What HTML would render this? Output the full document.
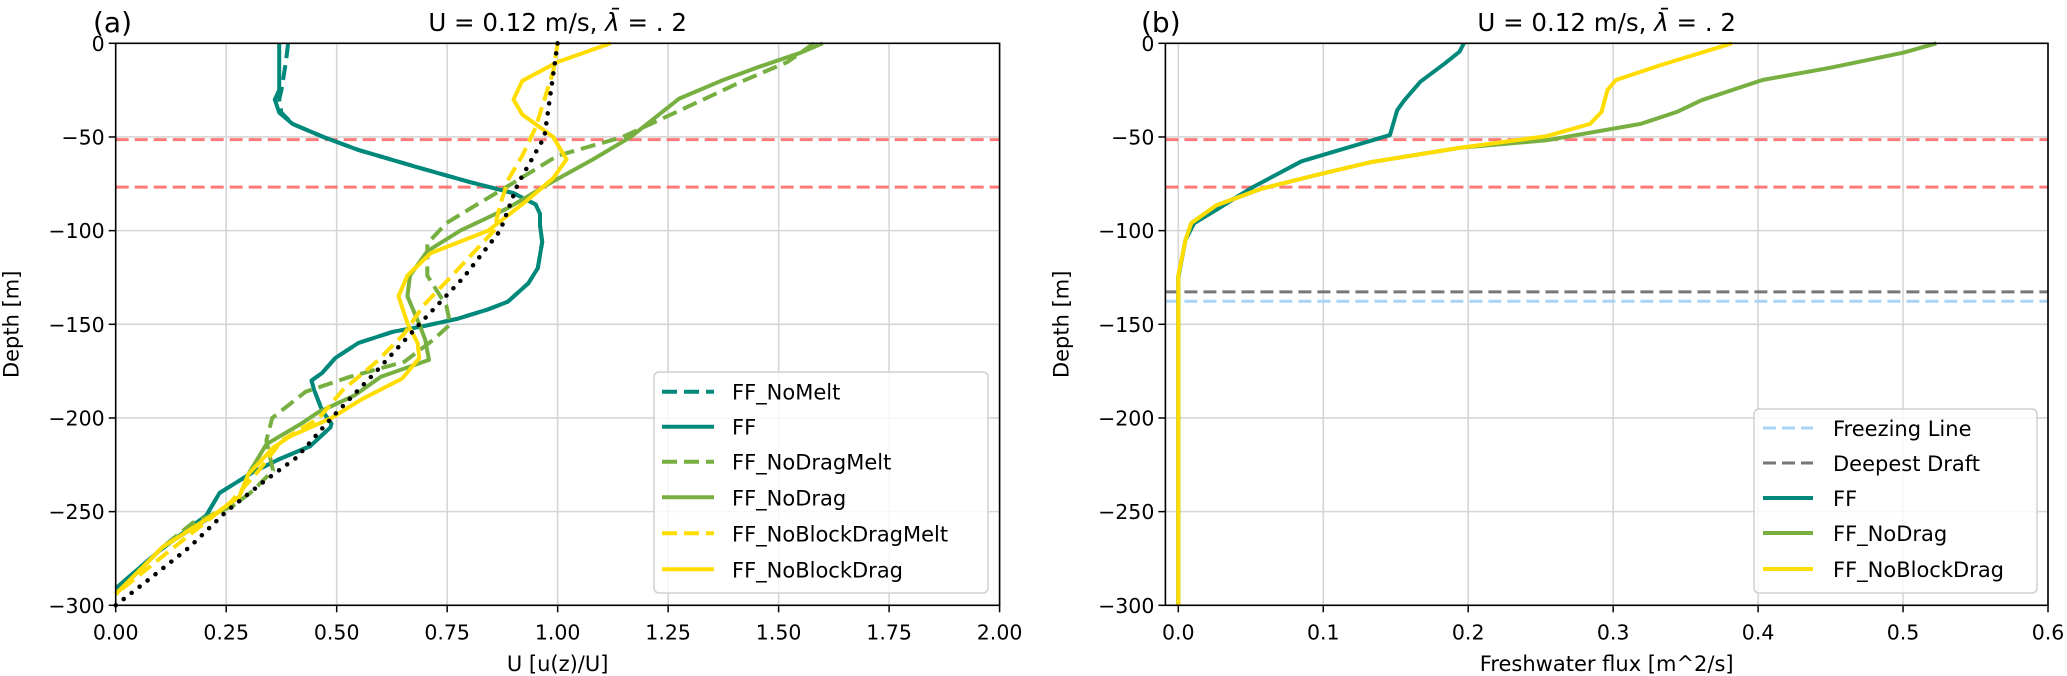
<!DOCTYPE html>
<html><head><meta charset="utf-8"><style>
html,body{margin:0;padding:0;background:#fff;}
svg{display:block;font-family:"DejaVu Sans","Liberation Sans",sans-serif;}
</style></head><body>
<svg id="fig" width="2067" height="676" viewBox="0 0 2067 676" xmlns="http://www.w3.org/2000/svg"></svg>
<script>
// ---------- Panel (a) data ----------
const aXTicks = [0, 0.25, 0.5, 0.75, 1.0, 1.25, 1.5, 1.75, 2.0];
const aXTickLabels = ["0.00","0.25","0.50","0.75","1.00","1.25","1.50","1.75","2.00"];
const yTicks = [0, -50, -100, -150, -200, -250, -300];
const yTickLabels = ["0","\u221250","\u2212100","\u2212150","\u2212200","\u2212250","\u2212300"];
const refLines = [-51.4, -76.8];

const ffDepth = [0,-10,-25,-30,-37,-43,-50,-57,-66,-74,-80,-86,-91,-97,-106,-120,-128,-138,-142,-147,-151,-154,-160,-168,-176,-180,-185,-196,-203,-205,-215,-222,-229,-240,-252,-271,-291];
const ffU = [0.37,0.37,0.37,0.36,0.37,0.40,0.47,0.55,0.68,0.80,0.90,0.95,0.96,0.96,0.965,0.955,0.934,0.887,0.843,0.774,0.696,0.627,0.549,0.497,0.467,0.443,0.449,0.467,0.488,0.486,0.44,0.37,0.31,0.235,0.205,0.098,0];
const ffNoMeltU = [0.39,0.385,0.375,0.37,0.375,0.40,0.47,0.55,0.68,0.80,0.90,0.95,0.96,0.96,0.965,0.955,0.934,0.887,0.843,0.774,0.696,0.627,0.549,0.497,0.467,0.443,0.449,0.467,0.488,0.486,0.44,0.37,0.31,0.235,0.205,0.098,0];

const noDragDepth = [0,-5,-13,-20,-29.5,-50,-62,-75,-88,-100,-111,-124,-135,-150,-158,-169,-178,-188,-197,-203,-214,-230,-242,-250,-269,-294];
const noDragU = [1.6,1.55,1.45,1.37,1.275,1.165,1.08,0.98,0.887,0.78,0.705,0.666,0.66,0.687,0.70,0.709,0.60,0.54,0.458,0.42,0.341,0.30,0.28,0.235,0.106,0];

const noDragMeltDepth = [0,-10,-20,-36,-50,-60,-75,-86,-96,-107,-124,-140,-150,-158,-170,-178,-186,-200,-212,-228,-239,-247,-256,-269,-294];
const noDragMeltU = [1.58,1.52,1.42,1.275,1.147,1.0,0.896,0.818,0.748,0.705,0.705,0.748,0.757,0.72,0.653,0.53,0.43,0.354,0.341,0.356,0.31,0.265,0.174,0.106,0];

const noBlockDepth = [0,-10,-20,-30,-38,-50,-62,-72,-84,-100,-112,-124,-135,-150,-160,-168,-179,-190,-200,-210,-216,-230,-242,-249.5,-269,-294];
const noBlockU = [1.12,1.0,0.92,0.90,0.92,0.99,1.02,0.99,0.93,0.843,0.713,0.66,0.64,0.661,0.683,0.687,0.648,0.557,0.488,0.393,0.356,0.30,0.28,0.235,0.106,0];

const noBlockMeltDepth = [0,-15,-30,-45,-60,-72,-86,-100,-125,-140,-155,-170,-185,-200,-212,-228,-245,-260,-275,-294];
const noBlockMeltU = [1.0,0.99,0.97,0.95,0.92,0.89,0.87,0.856,0.757,0.696,0.653,0.59,0.514,0.46,0.376,0.324,0.26,0.18,0.10,0];

const refDepth = [0,-50,-75,-100,-125,-150,-175,-200,-221,-233,-250,-269,-286,-300];
const refU = [1.0,0.97,0.91,0.87,0.787,0.687,0.59,0.488,0.41,0.34,0.25,0.167,0.076,0.0];

// ---------- Panel (b) data ----------
const bXTicks = [0,0.1,0.2,0.3,0.4,0.5,0.6];
const bXTickLabels = ["0.0","0.1","0.2","0.3","0.4","0.5","0.6"];
const deepestDraft = -132.7;
const freezingLine = -137.7;

const bFFDepth = [0,-4.5,-10.7,-20.5,-30.4,-35.7,-49,-63,-77,-89,-96,-105,-125,-300];
const bFFFlux = [0.197,0.194,0.184,0.167,0.156,0.151,0.146,0.085,0.051,0.026,0.011,0.005,0.0,0.0];

const bNoDragDepth = [0,-5,-13,-19.6,-30.4,-36.6,-43,-48,-51.8,-55.7,-63.4,-70.5,-77.7,-86.6,-96,-105,-124,-300];
const bNoDragFlux = [0.523,0.50,0.45,0.403,0.361,0.344,0.319,0.282,0.254,0.195,0.133,0.094,0.057,0.026,0.009,0.005,0.0,0.0];

const bNoBlockDepth = [0,-11.6,-19.6,-25,-36.6,-43,-49.6,-55.7,-63.4,-70.5,-77.7,-86.6,-96,-105,-124,-300];
const bNoBlockFlux = [0.382,0.333,0.302,0.296,0.292,0.284,0.254,0.195,0.133,0.094,0.057,0.026,0.009,0.005,0.0,0.0];

// ---------- Drawing ----------
const NS = "http://www.w3.org/2000/svg";
const svg = document.getElementById('fig');
function mk(tag, attrs, parent){
  const e = document.createElementNS(NS, tag);
  for (const k in attrs) e.setAttribute(k, attrs[k]);
  (parent||svg).appendChild(e);
  return e;
}
const TEAL="#00897b", GREEN="#77b041", YELLOW="#ffdd00";

const Y0 = 43.3, Y1 = 605.3;
function yScale(d){ return Y0 + (0 - d) / 300 * (Y1 - Y0); }
const ax = {x0:115.7, x1:999.6, min:0, max:2};
const bx = {x0:1165.4, x1:2048, min:-0.0089, max:0.6};
function xs(p, v){ return p.x0 + (v - p.min)/(p.max - p.min)*(p.x1 - p.x0); }

function pts(p, xsArr, ds){ return xsArr.map((v,i)=> xs(p,v).toFixed(1)+","+yScale(ds[i]).toFixed(1)).join(" "); }

function frame(p, ticks, labels, panelName, xlabel){
  const g = mk('g', {});
  
  
  ticks.forEach((t,i)=>{
    const x = xs(p,t);
    const gl = mk('line',{x1:x,x2:x,y1:Y0,y2:Y1,stroke:"#d6d6d6","stroke-width":1.6},g);
    
    
    mk('line',{x1:x,x2:x,y1:Y1,y2:Y1+7,stroke:"#000","stroke-width":1.5},g);
    const tx = mk('text',{x:x,y:Y1+34,"font-size":20.5,"text-anchor":"middle",fill:"#000"},g);
    tx.textContent = labels[i];
    
    
  });
  yTicks.forEach((t,i)=>{
    const y = yScale(t);
    const gl = mk('line',{x1:p.x0,x2:p.x1,y1:y,y2:y,stroke:"#d6d6d6","stroke-width":1.6},g);
    
    
    mk('line',{x1:p.x0-7,x2:p.x0,y1:y,y2:y,stroke:"#000","stroke-width":1.5},g);
    const tx = mk('text',{x:p.x0-11,y:y+7.5,"font-size":20.5,"text-anchor":"end",fill:"#000"},g);
    tx.textContent = yTickLabels[i];
    
    
  });
  const xl = mk('text',{x:(p.x0+p.x1)/2,y:671,"font-size":21,"text-anchor":"middle",fill:"#000"},g);
  xl.textContent = xlabel;
  
  
  const yx = p.x0 - 97;
  const yl = mk('text',{x:yx,y:(Y0+Y1)/2,"font-size":21,"text-anchor":"middle",fill:"#000",transform:`rotate(-90 ${yx} ${(Y0+Y1)/2})`},g);
  yl.textContent = "Depth [m]";
  
  
  return g;
}
function spines(p){
  const r = mk('rect',{x:p.x0,y:Y0,width:p.x1-p.x0,height:Y1-Y0,fill:"none",stroke:"#000","stroke-width":1.6});
  
  
}
function hline(p, d, color, w, dash, name, op){
  const l = mk('line',{x1:p.x0,x2:p.x1,y1:yScale(d),y2:yScale(d),stroke:color,"stroke-width":w,"stroke-dasharray":dash,opacity:op||1});
  
  
}
function series(p, vals, ds, color, dash, name, w, cap){
  const l = mk('polyline',{points:pts(p,vals,ds),fill:"none",stroke:color,"stroke-width":w||4,"stroke-linejoin":"round","stroke-linecap":cap||"butt"});
  if (dash) l.setAttribute('stroke-dasharray', dash);
  
  
}
function title(cx, letterX, letter, nm){
  const t = mk('text',{x:cx,y:31,"font-size":24.5,"text-anchor":"middle",fill:"#000"});
  t.innerHTML = 'U = 0.12 m/s, <tspan font-style="italic">λ̄</tspan> = . 2';
  
  
  const l = mk('text',{x:letterX,y:32,"font-size":28,fill:"#000"});
  l.textContent = letter;
  
  
}
function legend(x, y, w, h, entries, rowY, hx0, hx1, tx, nm){
  const g = mk('g',{});
  
  
  mk('rect',{x:x,y:y,width:w,height:h,rx:5,fill:"#fff","fill-opacity":0.8,stroke:"#d0d0d0","stroke-width":1.5},g);
  entries.forEach((e,i)=>{
    const yy = rowY[i];
    const ln = mk('line',{x1:hx0,x2:hx1,y1:yy,y2:yy,stroke:e[1],"stroke-width":e[3]||4},g);
    if (e[2]) ln.setAttribute('stroke-dasharray', e[2]);
    
    
    const t = mk('text',{x:tx,y:yy+8,"font-size":21,fill:"#000"},g);
    t.textContent = e[0];
    
    
  });
}

// Panel a
frame(ax, aXTicks, aXTickLabels, 'panel-a', 'U [u(z)/U]');
refLines.forEach(d=>hline(ax, d, "#ff6b6b", 3, "13 6", 'reference-depth-line', 0.9));
series(ax, ffNoMeltU, ffDepth, TEAL, "15 7", 'line-ff-nomelt');
series(ax, ffU, ffDepth, TEAL, null, 'line-ff');
series(ax, noDragMeltU, noDragMeltDepth, GREEN, "15 7", 'line-ff-nodragmelt');
series(ax, noDragU, noDragDepth, GREEN, null, 'line-ff-nodrag');
series(ax, noBlockMeltU, noBlockMeltDepth, YELLOW, "15 7", 'line-ff-noblockdragmelt');
series(ax, noBlockU, noBlockDepth, YELLOW, null, 'line-ff-noblockdrag');
series(ax, refU, refDepth, "#000", "0.1 10", 'line-reference-profile', 4.5, "round");
spines(ax);
title((ax.x0+ax.x1)/2, 93, "(a)", 'panel-a');
legend(654, 372, 334, 221, [
  ["FF_NoMelt",TEAL,"15 7"],["FF",TEAL,null],["FF_NoDragMelt",GREEN,"15 7"],
  ["FF_NoDrag",GREEN,null],["FF_NoBlockDragMelt",YELLOW,"15 7"],["FF_NoBlockDrag",YELLOW,null]
], [391.7,426.7,461.7,497.3,533.3,569.3], 662, 714, 732, 'legend-a');

// Panel b
frame(bx, bXTicks, bXTickLabels, 'panel-b', 'Freshwater flux [m^2/s]');
refLines.forEach(d=>hline(bx, d, "#ff6b6b", 3, "13 6", 'reference-depth-line', 0.9));
hline(bx, deepestDraft, "#777", 3, "13 6", 'deepest-draft-line');
hline(bx, freezingLine, "#aad4f5", 3, "13 6", 'freezing-line');
series(bx, bFFFlux, bFFDepth, TEAL, null, 'line-b-ff');
series(bx, bNoDragFlux, bNoDragDepth, GREEN, null, 'line-b-ff-nodrag');
series(bx, bNoBlockFlux, bNoBlockDepth, YELLOW, null, 'line-b-ff-noblockdrag');
spines(bx);
title((bx.x0+bx.x1)/2, 1141, "(b)", 'panel-b');
legend(1754, 409, 283, 184, [
  ["Freezing Line","#aad4f5","13 6",3],["Deepest Draft","#777","13 6",3],
  ["FF",TEAL,null],["FF_NoDrag",GREEN,null],["FF_NoBlockDrag",YELLOW,null]
], [428,463,498,533,569], 1763, 1813, 1833, 'legend-b');
</script>
</body></html>
